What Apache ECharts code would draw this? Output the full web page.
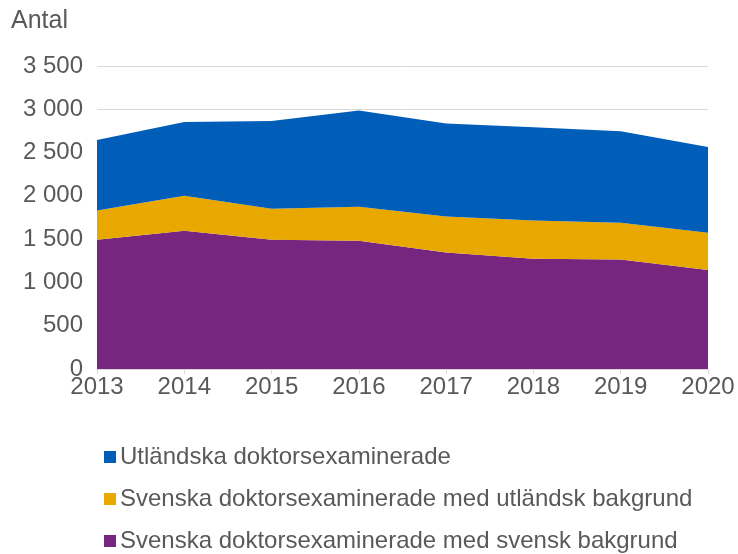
<!DOCTYPE html>
<html>
<head>
<meta charset="utf-8">
<script src="https://cdn.jsdelivr.net/npm/echarts@6/dist/echarts.min.js"></script>
<style>
  html, body { margin: 0; padding: 0; background: #fff; }
  #chart { width: 738px; height: 554px; }
</style>
</head>
<body>
<div id="chart"></div>
<script>
'use strict';

const years = ['2013', '2014', '2015', '2016', '2017', '2018', '2019', '2020'];
const svenskBakgrund = [1493, 1597, 1493, 1481, 1346, 1273, 1265, 1145];
const utlBakgrund = [339, 405, 358, 393, 416, 443, 424, 429];
const utlandska = [814, 852, 1015, 1111, 1073, 1076, 1057, 991];

const names = [
  'Utländska doktorsexaminerade',
  'Svenska doktorsexaminerade med utländsk bakgrund',
  'Svenska doktorsexaminerade med svensk bakgrund',
];
const colors = ['#005EB8', '#E8A800', '#76267F'];

const textColor = '#595959';
const font = 'Liberation Sans, Arial, sans-serif';
const fontSize = 24;

function area(name, data, color) {
  return {
    name,
    type: 'line',
    stack: 'total',
    data,
    symbol: 'none',
    lineStyle: { width: 0 },
    areaStyle: { color, opacity: 1 },
    itemStyle: { color },
  };
}

// one legend per row so they stack like the original
const legendTops = [445, 487, 529];
const legends = names.map((n, i) => ({
  orient: 'horizontal',
  left: 104,
  top: legendTops[i],
  padding: 0,
  icon: 'rect',
  itemWidth: 12,
  itemHeight: 12,
  itemGap: 4,
  data: [n],
  textStyle: { fontSize, color: textColor, fontFamily: font, padding: [0, 0, 0, -1] },
}));

const chart = echarts.init(document.getElementById('chart'));
chart.setOption({
  animation: false,
  textStyle: { fontFamily: font },
  graphic: [{
    type: 'text',
    left: 11,
    top: 9,
    style: { text: 'Antal', fontSize: 25, fill: textColor, fontFamily: font },
  }],
  grid: { left: 97, right: 30, top: 66, bottom: 185, containLabel: false },
  legend: legends,
  xAxis: {
    type: 'category',
    data: years,
    boundaryGap: false,
    axisLine: { lineStyle: { color: '#d9d9d9', width: 1 } },
    axisTick: { show: true, length: 5, lineStyle: { color: '#d9d9d9' } },
    axisLabel: { fontSize, color: textColor, margin: 6 },
  },
  yAxis: {
    type: 'value',
    min: 0,
    max: 3500,
    interval: 500,
    axisLine: { show: false },
    axisTick: { show: false },
    splitLine: { lineStyle: { color: '#d9d9d9', width: 1 } },
    axisLabel: {
      fontSize,
      color: textColor,
      margin: 14,
      formatter: v => String(v).replace(/\B(?=(\d{3})+(?!\d))/g, ' '),
    },
  },
  series: [
    area(names[2], svenskBakgrund, colors[2]),
    area(names[1], utlBakgrund, colors[1]),
    area(names[0], utlandska, colors[0]),
  ],
});
</script>
</body>
</html>
